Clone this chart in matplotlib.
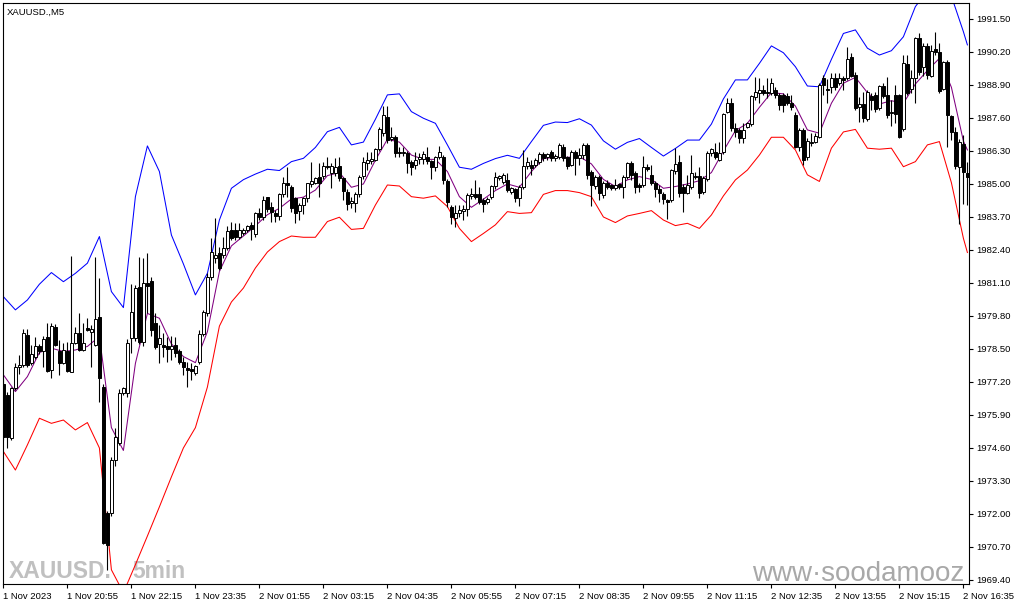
import matplotlib
matplotlib.use('Agg')
import matplotlib.pyplot as plt
import numpy as np

# XAUUSD M5 candles (bar 0 = 1 Nov 19:35)
opens = [1977.10, 1976.67, 1974.98, 1976.95, 1977.80, 1977.87, 1979.05, 1977.94, 1978.20, 1978.60,
         1978.40, 1978.99, 1977.67, 1979.38, 1978.40, 1977.96, 1978.43, 1977.61, 1978.72, 1979.12,
         1978.46, 1979.31, 1979.18, 1978.66, 1979.75, 1977.02, 1972.03, 1972.03, 1974.13, 1974.78,
         1976.78, 1976.75, 1978.92, 1978.92, 1980.95, 1978.79, 1981.10, 1981.19, 1979.53, 1978.70,
         1978.66, 1978.60, 1978.50, 1978.65, 1978.40, 1978.00, 1977.74, 1977.70, 1977.57, 1978.00,
         1979.08, 1979.90, 1981.35, 1982.07, 1982.27, 1982.20, 1982.46, 1983.20, 1983.19, 1982.92,
         1983.08, 1983.19, 1983.38, 1983.03, 1983.87, 1983.71, 1984.47, 1984.10, 1983.87, 1983.74,
         1984.59, 1985.05, 1984.87, 1984.43, 1983.95, 1984.17, 1984.43, 1984.99, 1985.05, 1985.29,
         1985.32, 1985.71, 1985.42, 1985.42, 1985.71, 1985.22, 1984.69, 1984.24, 1984.24, 1984.60,
         1985.32, 1985.81, 1985.92, 1985.94, 1986.37, 1986.99, 1987.65, 1986.76, 1986.84, 1986.27,
         1986.23, 1986.23, 1985.88, 1985.75, 1986.00, 1985.97, 1986.08, 1985.92, 1985.65, 1986.05,
         1986.05, 1985.13, 1984.11, 1983.65, 1983.87, 1983.95, 1984.00, 1984.52, 1984.60, 1984.60,
         1984.37, 1984.30, 1984.47, 1984.92, 1985.23, 1985.09, 1985.16, 1984.70, 1984.79, 1984.43,
         1984.87, 1985.71, 1985.75, 1985.75, 1985.88, 1986.20, 1986.05, 1986.27, 1986.01, 1986.08,
         1986.47, 1986.05, 1985.75, 1986.27, 1986.01, 1986.14, 1986.54, 1985.49, 1984.92, 1985.29,
         1984.57, 1985.03, 1984.96, 1984.83, 1985.00, 1984.87, 1985.26, 1985.84, 1985.42, 1984.95,
         1984.96, 1985.68, 1985.35, 1985.03, 1984.79, 1984.60, 1984.37, 1984.37, 1985.52, 1985.88,
         1984.90, 1984.66, 1984.90, 1985.30, 1985.30, 1984.70, 1985.18, 1986.21, 1986.27, 1985.94,
         1986.27, 1987.85, 1988.20, 1987.19, 1987.13, 1986.80, 1987.26, 1987.36, 1988.44, 1988.57,
         1988.70, 1988.64, 1988.60, 1988.70, 1988.51, 1988.51, 1988.47, 1988.20, 1987.72, 1986.47,
         1987.13, 1986.05, 1986.60, 1986.67, 1986.87, 1989.16, 1988.75, 1988.83, 1989.16, 1988.99,
         1989.16, 1989.16, 1989.99, 1989.30, 1988.02, 1988.15, 1987.55, 1988.47, 1988.51, 1987.98,
         1988.86, 1988.51, 1987.80, 1988.51, 1988.51, 1987.15, 1989.73, 1988.73, 1989.16, 1990.74,
         1989.62, 1990.44, 1989.26, 1990.30, 1990.20, 1988.73, 1989.82, 1987.68, 1987.06, 1985.68,
         1986.58, 1985.45]
highs = [1977.30, 1976.80, 1977.00, 1977.94, 1978.26, 1979.30, 1979.27, 1978.66, 1978.99, 1978.70,
         1979.01, 1979.51, 1979.51, 1979.47, 1978.85, 1978.72, 1978.79, 1982.16, 1979.38, 1979.90,
         1979.51, 1979.71, 1979.45, 1982.14, 1981.28, 1977.10, 1972.10, 1974.26, 1975.38, 1976.91,
         1977.00, 1978.90, 1981.06, 1981.02, 1982.14, 1982.07, 1982.27, 1981.35, 1979.90, 1979.45,
         1979.12, 1978.98, 1979.00, 1978.98, 1978.50, 1978.20, 1978.00, 1977.93, 1977.87, 1979.25,
         1980.04, 1981.48, 1982.86, 1983.65, 1982.50, 1982.92, 1983.35, 1983.52, 1983.45, 1983.45,
         1983.25, 1983.40, 1983.52, 1983.90, 1984.04, 1984.53, 1984.50, 1984.30, 1983.97, 1984.63,
         1985.29, 1985.66, 1984.96, 1984.50, 1984.24, 1984.50, 1985.05, 1985.88, 1985.29, 1985.84,
         1985.88, 1986.08, 1985.82, 1986.01, 1986.08, 1985.29, 1984.80, 1984.50, 1984.70, 1985.35,
         1986.08, 1986.27, 1986.27, 1986.40, 1987.26, 1988.07, 1988.07, 1987.26, 1986.93, 1986.47,
         1986.47, 1986.31, 1985.94, 1986.27, 1986.23, 1986.31, 1986.47, 1985.94, 1986.10, 1986.50,
         1986.14, 1985.20, 1984.17, 1984.17, 1984.17, 1984.17, 1984.65, 1984.83, 1985.16, 1984.87,
         1984.43, 1984.50, 1984.96, 1985.49, 1985.35, 1985.42, 1985.42, 1984.90, 1984.83, 1984.96,
         1986.34, 1986.08, 1985.95, 1986.01, 1986.27, 1986.27, 1986.23, 1986.34, 1986.20, 1986.60,
         1986.57, 1986.10, 1986.34, 1986.34, 1986.40, 1986.60, 1986.60, 1985.55, 1985.35, 1985.35,
         1985.10, 1985.16, 1985.00, 1985.20, 1985.05, 1985.35, 1985.88, 1985.90, 1985.50, 1985.03,
         1986.10, 1985.79, 1985.75, 1985.10, 1984.96, 1984.70, 1984.40, 1985.58, 1986.40, 1986.14,
         1985.00, 1985.35, 1986.14, 1985.49, 1985.68, 1985.30, 1986.30, 1986.40, 1986.60, 1986.67,
         1987.78, 1988.37, 1988.37, 1987.39, 1987.20, 1987.39, 1987.46, 1988.51, 1989.20, 1989.16,
         1988.90, 1989.16, 1989.16, 1988.83, 1988.60, 1988.60, 1988.57, 1988.50, 1987.85, 1987.20,
         1987.20, 1986.80, 1987.00, 1987.00, 1988.97, 1989.30, 1989.12, 1989.38, 1989.36, 1989.36,
         1989.25, 1990.41, 1990.17, 1989.40, 1988.41, 1988.64, 1988.70, 1988.57, 1988.64, 1988.90,
         1988.96, 1989.20, 1988.31, 1988.90, 1988.55, 1990.08, 1990.08, 1989.49, 1990.78, 1990.93,
         1990.54, 1990.54, 1990.47, 1991.00, 1990.57, 1989.86, 1989.88, 1987.72, 1987.26, 1986.76,
         1986.93, 1985.88]
lows = [1974.90, 1974.59, 1974.90, 1976.90, 1977.50, 1977.80, 1977.80, 1977.87, 1978.10, 1978.30,
        1977.80, 1977.60, 1977.34, 1978.60, 1977.48, 1977.90, 1977.60, 1977.60, 1978.70, 1978.40,
        1978.40, 1979.20, 1977.80, 1978.60, 1976.43, 1970.80, 1969.79, 1971.90, 1973.87, 1974.70,
        1976.70, 1976.60, 1978.33, 1978.80, 1978.70, 1978.60, 1979.90, 1979.00, 1978.50, 1977.93,
        1978.20, 1978.00, 1978.07, 1978.20, 1977.90, 1977.48, 1976.99, 1977.28, 1977.48, 1977.90,
        1979.00, 1979.80, 1981.20, 1981.90, 1981.60, 1982.10, 1982.40, 1982.80, 1982.80, 1982.85,
        1983.00, 1983.10, 1982.79, 1982.90, 1983.60, 1983.60, 1983.90, 1983.52, 1983.50, 1983.60,
        1984.50, 1984.50, 1983.90, 1983.48, 1983.60, 1983.80, 1984.30, 1984.90, 1985.00, 1984.50,
        1985.20, 1985.60, 1984.83, 1985.30, 1985.10, 1984.37, 1983.98, 1984.04, 1983.91, 1984.50,
        1985.20, 1985.55, 1985.80, 1985.90, 1986.30, 1986.90, 1986.60, 1986.70, 1986.05, 1986.05,
        1986.10, 1985.45, 1985.35, 1985.60, 1985.80, 1985.80, 1985.80, 1985.18, 1985.50, 1986.00,
        1985.00, 1984.10, 1983.42, 1983.29, 1983.71, 1983.58, 1983.74, 1984.40, 1984.40, 1984.20,
        1983.91, 1984.20, 1984.40, 1984.80, 1985.15, 1985.00, 1984.70, 1984.60, 1984.30, 1984.13,
        1984.80, 1985.60, 1985.35, 1985.65, 1985.80, 1985.90, 1985.95, 1985.90, 1985.90, 1986.00,
        1985.90, 1985.60, 1985.70, 1985.35, 1985.75, 1986.00, 1985.20, 1984.13, 1984.80, 1984.37,
        1984.43, 1984.80, 1984.78, 1984.75, 1984.80, 1984.43, 1985.20, 1985.16, 1984.63, 1984.70,
        1984.90, 1985.50, 1984.95, 1984.50, 1984.30, 1984.21, 1983.61, 1984.30, 1985.40, 1984.50,
        1983.91, 1984.60, 1984.80, 1985.20, 1984.43, 1984.60, 1985.10, 1986.10, 1986.00, 1985.90,
        1986.20, 1987.80, 1987.10, 1986.87, 1986.60, 1986.60, 1987.20, 1987.30, 1988.30, 1988.18,
        1988.50, 1988.40, 1988.50, 1988.40, 1987.90, 1987.85, 1988.10, 1987.90, 1986.40, 1986.30,
        1985.75, 1985.95, 1986.50, 1986.60, 1986.80, 1988.50, 1988.20, 1988.57, 1988.70, 1988.90,
        1988.70, 1989.10, 1989.20, 1987.90, 1987.46, 1987.46, 1987.50, 1987.92, 1987.85, 1987.90,
        1988.40, 1987.60, 1987.29, 1987.42, 1986.80, 1987.10, 1988.50, 1988.60, 1988.18, 1989.30,
        1989.25, 1989.12, 1989.20, 1990.10, 1988.60, 1988.70, 1986.47, 1986.73, 1985.60, 1983.42,
        1984.21, 1984.17]
closes = [1975.05, 1975.05, 1976.95, 1977.80, 1977.85, 1979.12, 1977.87, 1978.30, 1978.60, 1978.40,
          1978.90, 1977.65, 1979.41, 1978.66, 1977.96, 1978.46, 1977.63, 1978.72, 1979.12, 1978.46,
          1978.72, 1979.25, 1979.27, 1979.67, 1977.34, 1970.84, 1970.78, 1974.13, 1975.05, 1976.75,
          1976.95, 1978.75, 1979.97, 1980.89, 1978.79, 1981.11, 1981.00, 1979.25, 1978.59, 1978.92,
          1978.59, 1978.50, 1978.60, 1978.33, 1978.00, 1977.80, 1977.67, 1977.65, 1977.83, 1979.08,
          1979.97, 1981.35, 1982.33, 1982.20, 1981.67, 1982.46, 1983.16, 1982.86, 1982.90, 1983.19,
          1983.19, 1983.35, 1983.21, 1983.84, 1983.71, 1984.37, 1984.00, 1983.90, 1983.74, 1984.59,
          1985.05, 1984.96, 1984.07, 1983.84, 1984.17, 1984.43, 1985.03, 1985.13, 1985.22, 1985.03,
          1985.71, 1985.66, 1985.71, 1985.66, 1985.22, 1984.74, 1984.21, 1984.34, 1984.60, 1985.26,
          1985.88, 1985.94, 1985.98, 1986.37, 1987.15, 1987.70, 1986.73, 1986.84, 1986.21, 1986.23,
          1986.27, 1985.81, 1985.65, 1985.94, 1986.05, 1986.18, 1985.92, 1985.65, 1986.05, 1986.27,
          1985.16, 1984.30, 1983.71, 1983.87, 1983.97, 1984.00, 1984.57, 1984.60, 1984.50, 1984.30,
          1984.21, 1984.39, 1984.92, 1985.26, 1985.32, 1985.35, 1984.76, 1984.83, 1984.43, 1984.87,
          1985.71, 1985.88, 1985.62, 1985.95, 1986.20, 1986.01, 1986.18, 1986.01, 1986.10, 1986.54,
          1986.01, 1985.71, 1986.27, 1986.01, 1986.14, 1986.54, 1985.35, 1984.96, 1985.29, 1984.63,
          1985.03, 1984.87, 1984.83, 1984.96, 1984.87, 1985.26, 1985.81, 1985.35, 1984.90, 1984.90,
          1985.68, 1985.58, 1985.03, 1984.79, 1984.63, 1984.40, 1984.30, 1985.55, 1985.79, 1984.63,
          1984.63, 1984.96, 1985.42, 1985.26, 1984.66, 1985.22, 1986.21, 1986.36, 1986.08, 1986.21,
          1987.76, 1988.20, 1987.19, 1987.06, 1986.80, 1987.13, 1987.39, 1988.47, 1988.64, 1988.70,
          1988.60, 1988.57, 1988.97, 1988.51, 1988.12, 1988.12, 1988.18, 1988.05, 1986.47, 1987.13,
          1985.95, 1986.70, 1986.67, 1986.89, 1988.90, 1988.90, 1988.70, 1989.16, 1988.83, 1989.16,
          1989.10, 1989.91, 1989.26, 1987.98, 1988.15, 1987.59, 1988.64, 1988.31, 1987.94, 1988.86,
          1988.47, 1987.72, 1987.85, 1987.76, 1986.84, 1989.78, 1988.57, 1989.16, 1990.74, 1989.43,
          1990.44, 1989.30, 1990.25, 1990.20, 1988.68, 1989.82, 1987.72, 1987.06, 1985.71, 1986.67,
          1985.49, 1985.26]

# indicator lines, read every 3rd bar
band_idx = list(range(0, 240, 3)) + [240, 241]
upper = [1980.56, 1980.04, 1980.43, 1981.05, 1981.51, 1981.15, 1981.48, 1981.88, 1982.93, 1980.76,
         1980.13, 1984.50, 1986.50, 1985.49, 1982.99, 1981.85, 1980.63, 1981.48, 1983.58, 1984.83,
         1985.17, 1985.39, 1985.58, 1985.53, 1985.88, 1986.01, 1986.44, 1987.06, 1987.23, 1986.54,
         1986.65, 1987.55, 1988.51, 1988.55, 1987.85, 1987.59, 1987.39, 1986.54, 1985.66, 1985.58,
         1985.81, 1986.00, 1986.13, 1986.01, 1986.67, 1987.31, 1987.44, 1987.42, 1987.57, 1987.32,
         1986.70, 1986.37, 1986.64, 1986.79, 1986.44, 1986.10, 1986.40, 1986.73, 1986.73, 1987.36,
         1988.35, 1989.10, 1989.10, 1989.75, 1990.44, 1990.17, 1989.62, 1988.86, 1988.83, 1989.91,
         1990.93, 1991.07, 1990.35, 1990.08, 1990.25, 1990.80, 1991.99, 1992.60, 1992.80, 1992.40,
         1991.00, 1990.48]
middle = [1977.48, 1976.82, 1977.41, 1978.36, 1978.53, 1978.40, 1978.46, 1978.60, 1978.99, 1975.40,
          1974.50, 1977.93, 1979.90, 1979.71, 1978.70, 1978.20, 1977.96, 1979.18, 1981.55, 1982.56,
          1982.95, 1983.35, 1983.79, 1984.04, 1984.41, 1984.48, 1984.76, 1985.33, 1985.45, 1984.87,
          1985.00, 1985.94, 1986.76, 1986.65, 1986.14, 1985.97, 1985.97, 1985.49, 1984.50, 1984.08,
          1984.40, 1984.74, 1985.00, 1984.87, 1985.49, 1986.00, 1986.05, 1986.05, 1986.08, 1985.79,
          1985.18, 1984.90, 1985.16, 1985.29, 1985.18, 1984.83, 1984.90, 1985.00, 1985.13, 1985.45,
          1986.30, 1987.10, 1987.39, 1988.02, 1988.60, 1988.55, 1988.07, 1987.13, 1987.00, 1988.18,
          1988.97, 1989.20, 1988.60, 1988.15, 1988.28, 1988.18, 1988.94, 1989.47, 1989.95, 1988.81,
          1986.69, 1986.34]
lower = [1974.46, 1973.73, 1974.72, 1975.77, 1975.57, 1975.70, 1975.31, 1975.60, 1974.60, 1969.80,
         1968.90, 1970.00, 1971.13, 1972.28, 1973.46, 1974.60, 1975.40, 1977.00, 1979.40, 1980.35,
         1980.90, 1981.69, 1982.32, 1982.73, 1982.95, 1982.90, 1982.90, 1983.52, 1983.69, 1983.21,
         1983.25, 1984.17, 1984.96, 1984.92, 1984.50, 1984.44, 1984.53, 1984.11, 1983.25, 1982.73,
         1983.05, 1983.39, 1983.91, 1983.84, 1983.87, 1984.59, 1984.74, 1984.74, 1984.66, 1984.50,
         1983.70, 1983.48, 1983.74, 1983.84, 1983.95, 1983.58, 1983.36, 1983.45, 1983.25, 1983.78,
         1984.53, 1985.16, 1985.55, 1986.14, 1986.84, 1986.84, 1986.34, 1985.36, 1985.10, 1986.41,
         1987.05, 1987.15, 1986.41, 1986.37, 1986.41, 1985.68, 1985.88, 1986.54, 1986.67, 1985.05,
         1982.86, 1982.30]

time_labels = ['1 Nov 2023', '1 Nov 20:55', '1 Nov 22:15', '1 Nov 23:35', '2 Nov 01:55',
               '2 Nov 03:15', '2 Nov 04:35', '2 Nov 05:55', '2 Nov 07:15', '2 Nov 08:35',
               '2 Nov 09:55', '2 Nov 11:15', '2 Nov 12:35', '2 Nov 13:55', '2 Nov 15:15',
               '2 Nov 16:35']
price_ticks = [1969.40, 1970.70, 1972.00, 1973.30, 1974.60, 1975.90, 1977.20, 1978.50, 1979.80,
               1981.10, 1982.40, 1983.70, 1985.00, 1986.30, 1987.60, 1988.90, 1990.20, 1991.50]

###plot configuration###
plt.rcParams['font.family'] = 'Liberation Sans'
plt.rcParams['font.size'] = 6.8
plt.rcParams['axes.linewidth'] = 0.8

fig = plt.figure(figsize=(10.15, 6.05), dpi=100)
ax = fig.add_axes([3/1015, 21/605, 966/1015, 581/605])

o = np.array(opens)
h = np.array(highs)
l = np.array(lows)
c = np.array(closes)
x = np.arange(len(o))
bull = c >= o

# watermarks sit behind everything
ax.text(0.006, 0.011, 'XAUUSD.', transform=ax.transAxes, fontsize=16.5, fontweight='bold',
        color='#c0c0c0', zorder=0)
ax.text(0.134, 0.011, '5min', transform=ax.transAxes, fontsize=16.5, fontweight='bold',
        color='#c0c0c0', zorder=0)
ax.text(0.775, 0.006, 'www·soodamooz', transform=ax.transAxes, fontsize=20,
        color='#a8a8a8', zorder=0)

ax.plot(band_idx, upper, color='#0000ff', lw=0.75, zorder=2)
ax.plot(band_idx, middle, color='#800080', lw=0.75, zorder=2)
ax.plot(band_idx, lower, color='#ff0000', lw=0.75, zorder=2)

ax.vlines(x, l, h, color='black', lw=0.8, zorder=3)
body_lo = np.minimum(o, c)
body_h = np.maximum(np.abs(c - o), 0.04)
ax.bar(x[bull], body_h[bull], bottom=body_lo[bull], width=0.6, color='white',
       edgecolor='black', linewidth=0.7, zorder=4)
ax.bar(x[~bull], body_h[~bull], bottom=body_lo[~bull], width=0.6, color='black',
       edgecolor='black', linewidth=0.7, zorder=4)

ax.text(0.004, 0.992, 'XAUUSD.,M5', transform=ax.transAxes, va='top', ha='left', fontsize=6.8)

ax.set_xlim(-0.1, 241.4)
ax.set_ylim(1969.24, 1992.13)

ax.yaxis.tick_right()
ax.set_yticks(price_ticks)
ax.set_yticklabels(['{0:.2f}'.format(v) for v in price_ticks])
ax.set_xticks(list(range(0, 241, 16)))
ax.set_xticklabels(time_labels, ha='left')
ax.tick_params(axis='both', direction='out', length=3, width=0.8, pad=2, labelsize=6.8)
ax.tick_params(axis='x', pad=3)

plt.savefig('out.png', dpi=100)
